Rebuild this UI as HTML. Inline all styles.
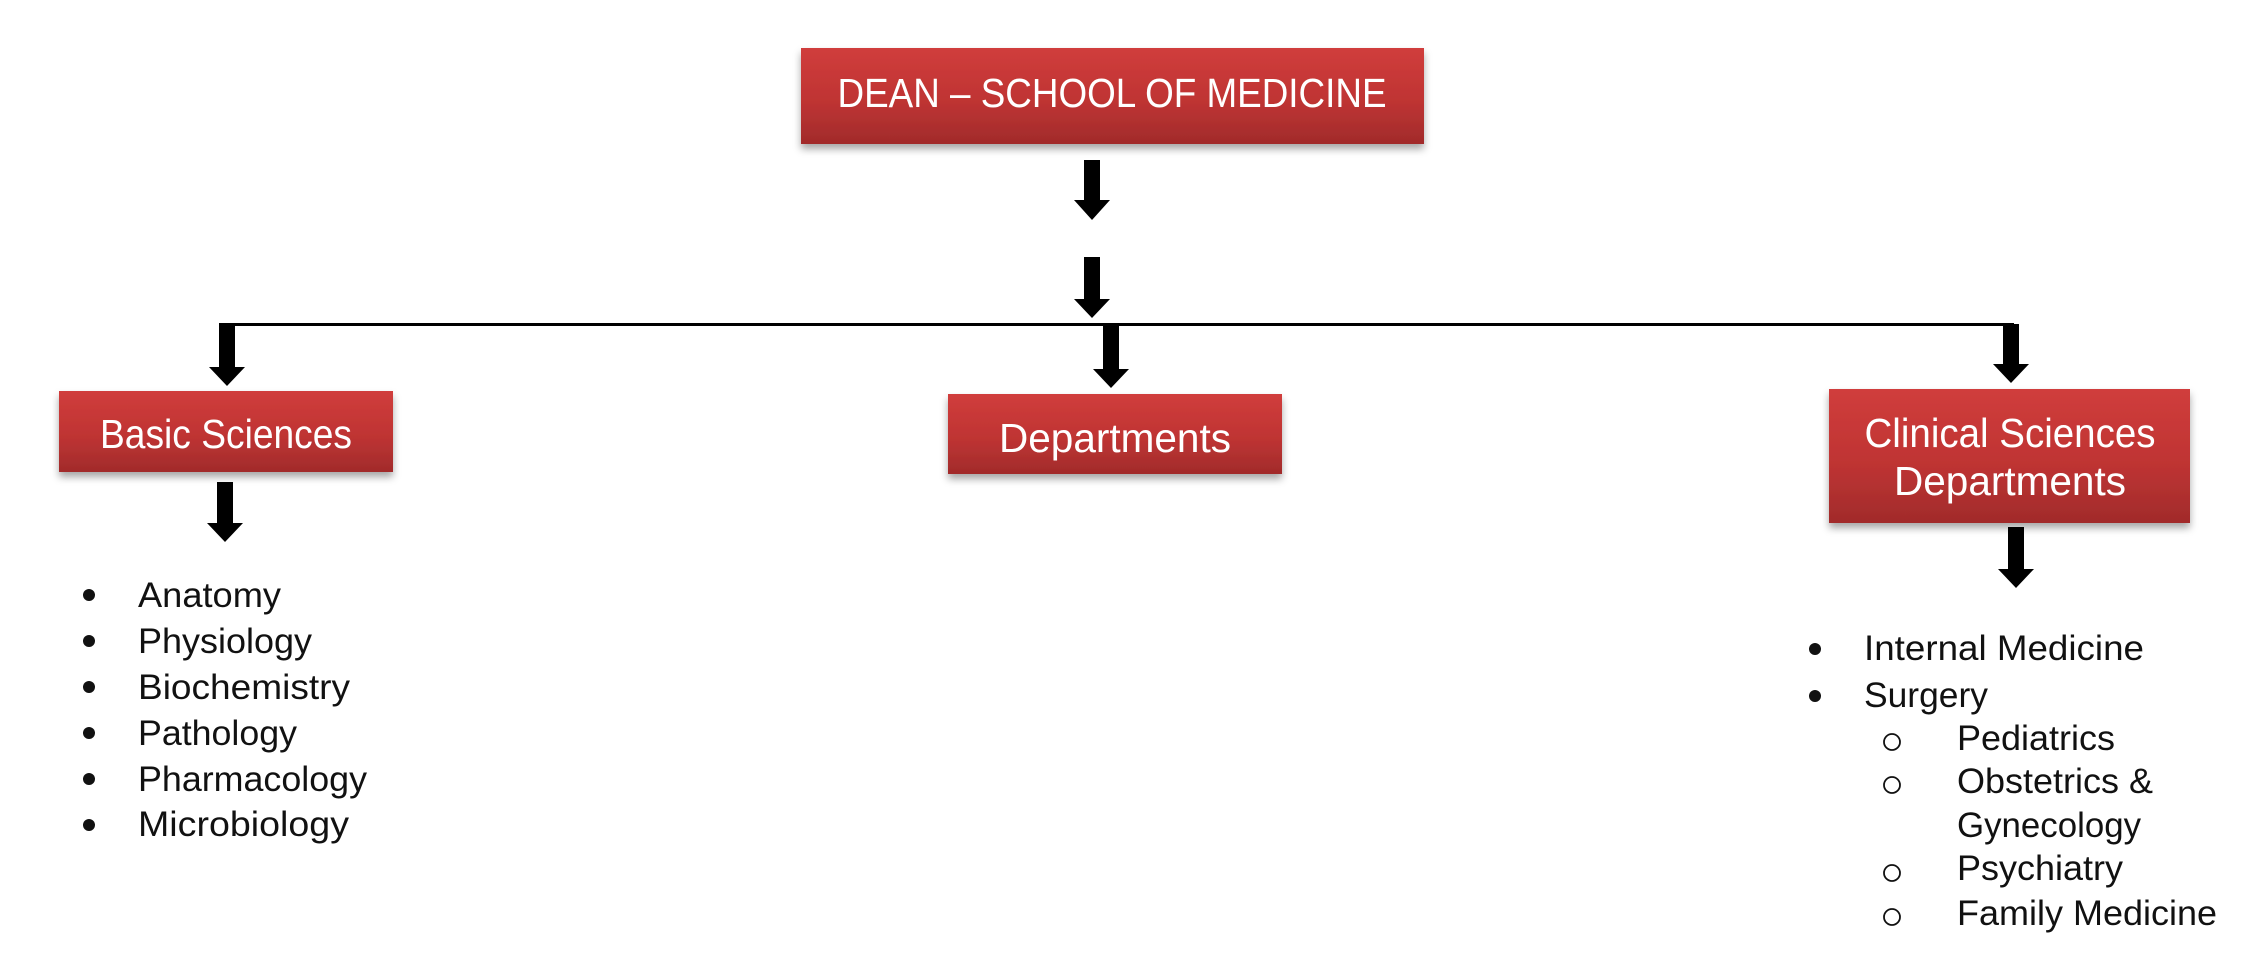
<!DOCTYPE html>
<html><head><meta charset="utf-8"><style>
html,body{margin:0;padding:0;background:#fff}
svg{display:block}
.bx{font-family:"Liberation Sans",sans-serif;fill:#fff;font-size:41px}
.li{font-family:"Liberation Sans",sans-serif;fill:#111;font-size:35px}
</style></head><body>
<svg width="2248" height="963" viewBox="0 0 2248 963" xmlns="http://www.w3.org/2000/svg">
<defs>
<linearGradient id="g" x1="0" y1="0" x2="0" y2="1">
<stop offset="0" stop-color="#d03d3c"/><stop offset="0.55" stop-color="#bf3433"/><stop offset="1" stop-color="#a12b2b"/>
</linearGradient>
<filter id="sh" x="-10%" y="-10%" width="120%" height="140%"><feDropShadow dx="0" dy="5" stdDeviation="4" flood-color="#000" flood-opacity="0.35"/></filter>
</defs>
<!-- boxes -->
<rect x="801" y="48" width="623" height="96" fill="url(#g)" filter="url(#sh)"/>
<text class="bx" x="1112" y="107" text-anchor="middle" textLength="549" lengthAdjust="spacingAndGlyphs">DEAN – SCHOOL OF MEDICINE</text>
<rect x="59" y="391" width="334" height="81" fill="url(#g)" filter="url(#sh)"/>
<text class="bx" x="226" y="448" text-anchor="middle" textLength="252" lengthAdjust="spacingAndGlyphs">Basic Sciences</text>
<rect x="948" y="394" width="334" height="80" fill="url(#g)" filter="url(#sh)"/>
<text class="bx" x="1115" y="452" text-anchor="middle" textLength="232" lengthAdjust="spacingAndGlyphs">Departments</text>
<rect x="1829" y="389" width="361" height="134" fill="url(#g)" filter="url(#sh)"/>
<text class="bx" x="2010" y="447" text-anchor="middle" textLength="291" lengthAdjust="spacingAndGlyphs">Clinical Sciences</text>
<text class="bx" x="2010" y="495" text-anchor="middle" textLength="232" lengthAdjust="spacingAndGlyphs">Departments</text>
<!-- connectors -->
<rect x="219" y="323" width="1795" height="3" fill="#000"/>
<g fill="#000">
<path d="M1084 160h16v40h10l-18 20l-18-20h10z"/>
<path d="M1084 257h16v42h10l-18 19l-18-19h10z"/>
<path d="M219 324h16v43h10l-18 19l-18-19h10z"/>
<path d="M1103 326h16v43h10l-18 19l-18-19h10z"/>
<path d="M2003 324h16v40h10l-18 19l-18-19h10z"/>
<path d="M217 482h16v41h10l-18 19l-18-19h10z"/>
<path d="M2008 527h16v42h10l-18 19l-18-19h10z"/>
</g>
<!-- basic list -->
<g fill="#111">
<circle cx="89" cy="595" r="6"/><circle cx="89" cy="641" r="6"/><circle cx="89" cy="687" r="6"/>
<circle cx="89" cy="733" r="6"/><circle cx="89" cy="779" r="6"/><circle cx="89" cy="825" r="6"/>
<circle cx="1815" cy="649" r="6"/><circle cx="1815" cy="696" r="6"/>
</g>
<text class="li" x="138" y="607" textLength="143" lengthAdjust="spacingAndGlyphs">Anatomy</text>
<text class="li" x="138" y="653" textLength="174" lengthAdjust="spacingAndGlyphs">Physiology</text>
<text class="li" x="138" y="699" textLength="212" lengthAdjust="spacingAndGlyphs">Biochemistry</text>
<text class="li" x="138" y="745" textLength="159" lengthAdjust="spacingAndGlyphs">Pathology</text>
<text class="li" x="138" y="791" textLength="229" lengthAdjust="spacingAndGlyphs">Pharmacology</text>
<text class="li" x="138" y="836" textLength="211" lengthAdjust="spacingAndGlyphs">Microbiology</text>
<!-- clinical list -->
<text class="li" x="1864" y="660" textLength="280" lengthAdjust="spacingAndGlyphs">Internal Medicine</text>
<text class="li" x="1864" y="707" textLength="124" lengthAdjust="spacingAndGlyphs">Surgery</text>
<g fill="none" stroke="#111" stroke-width="1.8">
<circle cx="1892" cy="742" r="8"/><circle cx="1892" cy="785" r="8"/><circle cx="1892" cy="873" r="8"/><circle cx="1892" cy="917" r="8"/>
</g>
<text class="li" x="1957" y="750" textLength="158" lengthAdjust="spacingAndGlyphs">Pediatrics</text>
<text class="li" x="1957" y="793" textLength="196" lengthAdjust="spacingAndGlyphs">Obstetrics &amp;</text>
<text class="li" x="1957" y="837" textLength="184" lengthAdjust="spacingAndGlyphs">Gynecology</text>
<text class="li" x="1957" y="880" textLength="166" lengthAdjust="spacingAndGlyphs">Psychiatry</text>
<text class="li" x="1957" y="925" textLength="260" lengthAdjust="spacingAndGlyphs">Family Medicine</text>
</svg>
</body></html>
